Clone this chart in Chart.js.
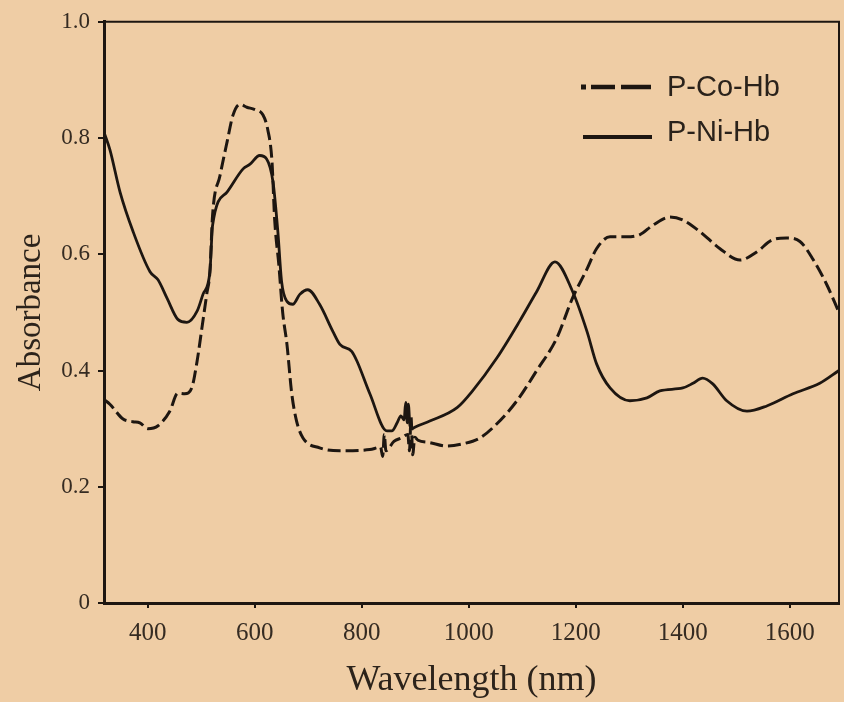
<!DOCTYPE html>
<html>
<head>
<meta charset="utf-8">
<script src="https://cdn.jsdelivr.net/npm/chart.js@4/dist/chart.umd.min.js"></script>
<style>
  html, body { margin: 0; padding: 0; background: #efcda5; }
  #wrap { width: 844px; height: 702px; }
</style>
</head>
<body>
<div id="wrap"><canvas id="c" width="844" height="702"></canvas></div>
<script>
// ---- data ----
const seriesNames = ["P-Co-Hb", "P-Ni-Hb"];

const wlCo = [318, 329, 353, 372, 385, 400, 419, 441, 456, 469, 482, 492, 501, 510, 516, 521, 535, 548, 559, 572, 585, 600, 615, 624, 632, 637, 645, 652, 660, 669, 678, 690, 721, 759, 815, 835, 839, 842, 845, 860, 874, 886, 889, 892, 895, 899, 905, 927, 959, 989, 1021, 1052, 1090, 1127, 1164, 1194, 1221, 1239, 1264, 1295, 1320, 1344, 1376, 1400, 1432, 1469, 1507, 1538, 1568, 1594, 1619, 1643, 1669, 1692];
const absCo = [0.35, 0.342, 0.317, 0.312, 0.31, 0.30, 0.305, 0.33, 0.361, 0.36, 0.37, 0.416, 0.473, 0.531, 0.57, 0.668, 0.736, 0.793, 0.839, 0.858, 0.853, 0.849, 0.84, 0.815, 0.76, 0.66, 0.58, 0.50, 0.445, 0.36, 0.313, 0.284, 0.267, 0.262, 0.264, 0.268, 0.252, 0.29, 0.262, 0.278, 0.284, 0.29, 0.262, 0.32, 0.255, 0.285, 0.28, 0.276, 0.27, 0.274, 0.284, 0.308, 0.348, 0.40, 0.455, 0.525, 0.575, 0.61, 0.63, 0.63, 0.634, 0.65, 0.664, 0.659, 0.639, 0.61, 0.59, 0.604, 0.625, 0.628, 0.622, 0.592, 0.548, 0.50];

const wlNi = [318, 329, 348, 372, 404, 419, 436, 456, 473, 492, 503, 516, 521, 548, 578, 591, 609, 622, 634, 643, 650, 660, 671, 684, 699, 721, 746, 759, 781, 791, 815, 847, 856, 866, 873, 879, 882, 885, 887, 890, 894, 900, 927, 978, 1007, 1052, 1095, 1127, 1161, 1194, 1221, 1239, 1264, 1301, 1333, 1357, 1400, 1419, 1437, 1456, 1482, 1520, 1557, 1606, 1656, 1692];
const absNi = [0.81, 0.78, 0.707, 0.64, 0.57, 0.556, 0.524, 0.488, 0.483, 0.502, 0.531, 0.57, 0.65, 0.707, 0.747, 0.755, 0.77, 0.764, 0.724, 0.639, 0.553, 0.519, 0.514, 0.531, 0.539, 0.514, 0.467, 0.445, 0.433, 0.416, 0.36, 0.296, 0.296, 0.31, 0.322, 0.315, 0.345, 0.31, 0.342, 0.305, 0.30, 0.303, 0.313, 0.336, 0.365, 0.421, 0.485, 0.536, 0.587, 0.536, 0.467, 0.411, 0.37, 0.348, 0.353, 0.365, 0.37, 0.378, 0.387, 0.377, 0.348, 0.33, 0.339, 0.36, 0.378, 0.40];

const xTicks = [400, 600, 800, 1000, 1200, 1400, 1600];
const yTicks = [0, 0.2, 0.4, 0.6, 0.8, 1.0];
const xTitle = "Wavelength (nm)";
const yTitle = "Absorbance";

// ---- chart ----
const ink = "#1d1611";
const textInk = "#352b22";

const toPts = (xs, ys) => xs.map((x, i) => ({ x: x, y: ys[i] }));

const framePlugin = {
  id: "frame",
  beforeDatasetsDraw(chart) {
    const a = chart.chartArea, ctx = chart.ctx;
    ctx.save();
    ctx.strokeStyle = ink;
    ctx.lineWidth = 2;
    ctx.beginPath();
    ctx.moveTo(a.left, a.top);
    ctx.lineTo(a.right, a.top);
    ctx.lineTo(a.right, a.bottom);
    ctx.stroke();
    ctx.restore();
  }
};

const legendPlugin = {
  id: "customLegend",
  afterDraw(chart) {
    const ctx = chart.ctx;
    ctx.save();
    ctx.strokeStyle = ink;
    ctx.fillStyle = ink;
    // dash-dot sample
    ctx.lineWidth = 4.5;
    ctx.fillRect(581, 84.5, 5, 5);
    ctx.beginPath();
    ctx.moveTo(591, 87); ctx.lineTo(615, 87);
    ctx.moveTo(621, 87); ctx.lineTo(651, 87);
    ctx.stroke();
    // solid sample
    ctx.lineWidth = 4;
    ctx.beginPath();
    ctx.moveTo(583, 137); ctx.lineTo(652, 137);
    ctx.stroke();
    ctx.fillStyle = "#2a221b";
    ctx.font = "29px 'Liberation Sans', Arial, sans-serif";
    ctx.textBaseline = "middle";
    ctx.textAlign = "left";
    ctx.fillText(seriesNames[0], 667, 88);
    ctx.fillText(seriesNames[1], 667, 133);
    ctx.restore();
  }
};

new Chart(document.getElementById("c"), {
  type: "line",
  data: {
    datasets: [
      {
        label: seriesNames[0],
        data: toPts(wlCo, absCo),
        borderColor: ink,
        borderWidth: 3,
        borderDash: [13, 5],
        pointRadius: 0,
        cubicInterpolationMode: "monotone",
        fill: false
      },
      {
        label: seriesNames[1],
        data: toPts(wlNi, absNi),
        borderColor: ink,
        borderWidth: 2.8,
        pointRadius: 0,
        cubicInterpolationMode: "monotone",
        fill: false
      }
    ]
  },
  options: {
    responsive: false,
    animation: false,
    devicePixelRatio: 1,
    layout: { padding: { left: 0, right: 5, top: 19, bottom: 0 } },
    plugins: {
      legend: { display: false },
      tooltip: { enabled: false }
    },
    scales: {
      x: {
        type: "linear",
        min: 318,
        max: 1692,
        afterBuildTicks: (s) => { s.ticks = xTicks.map(v => ({ value: v })); },
        afterFit: (s) => { s.height = 99; },
        ticks: {
          color: textInk,
          font: { family: "'Liberation Serif', 'Times New Roman', serif", size: 25 },
          padding: 10,
          maxRotation: 0,
          callback: (v) => String(v)
        },
        grid: { display: true, drawOnChartArea: false, drawTicks: true, tickLength: 5, color: ink, lineWidth: 2 },
        border: { display: true, color: ink, width: 3 },
        title: {
          display: true,
          text: xTitle,
          color: "#2c231b",
          font: { family: "'Liberation Serif', 'Times New Roman', serif", size: 36 },
          padding: { top: 2, bottom: 0 }
        }
      },
      y: {
        type: "linear",
        min: 0,
        max: 1.0,
        afterBuildTicks: (s) => { s.ticks = yTicks.map(v => ({ value: v })); },
        afterFit: (s) => { s.width = 104; },
        ticks: {
          color: textInk,
          font: { family: "'Liberation Serif', 'Times New Roman', serif", size: 23 },
          padding: 8,
          callback: (v) => v === 0 ? "0" : v.toFixed(1)
        },
        grid: { display: true, drawOnChartArea: false, drawTicks: true, tickLength: 6, color: ink, lineWidth: 2 },
        border: { display: true, color: ink, width: 3 },
        title: {
          display: true,
          text: yTitle,
          color: "#2c231b",
          font: { family: "'Liberation Serif', 'Times New Roman', serif", size: 33 },
          padding: { top: 12, bottom: 0 }
        }
      }
    }
  },
  plugins: [framePlugin, legendPlugin]
});
</script>
</body>
</html>
